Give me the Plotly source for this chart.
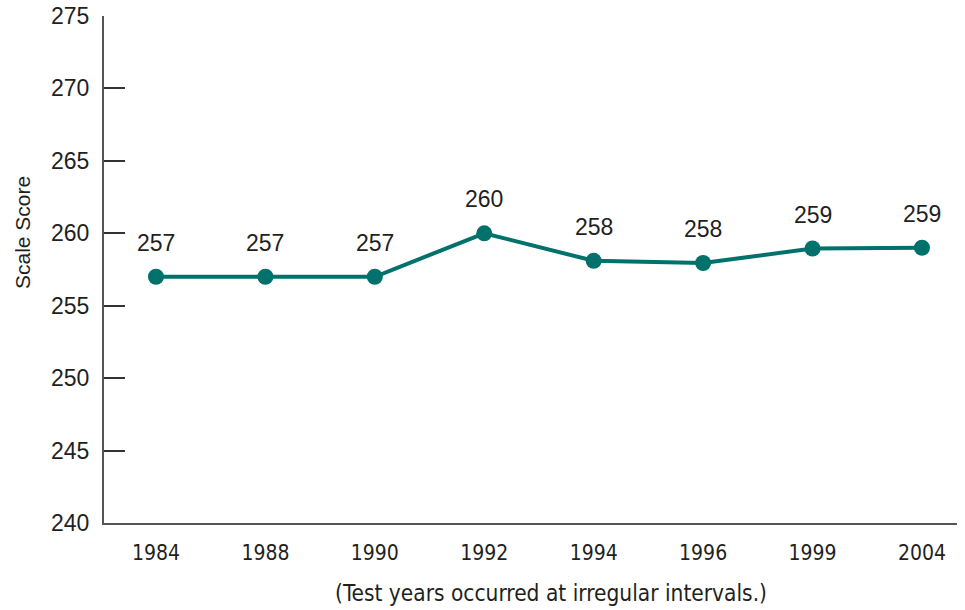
import plotly.graph_objects as go

years = ["1984", "1988", "1990", "1992", "1994", "1996", "1999", "2004"]
scores = [257.0, 257.0, 257.0, 260.0, 258.1, 257.95, 258.95, 259.0]
labels = ["257", "257", "257", "260", "258", "258", "259", "259"]
y_ticks = [240, 245, 250, 255, 260, 265, 270, 275]

TEAL = "#00716B"
TXT = "#231F20"
AX = "#555555"
SANS = "Liberation Sans, Arial, sans-serif"
NARROW = "Liberation Sans Narrow, DejaVu Sans Condensed, Roboto, sans-serif"

fig = go.Figure()
fig.add_trace(go.Scatter(
    x=years, y=scores, mode="lines+markers",
    line=dict(color=TEAL, width=4),
    marker=dict(color=TEAL, size=16),
    hoverinfo="skip", showlegend=False,
))

for i, (y, t) in enumerate(zip(scores, labels)):
    fig.add_annotation(x=i, y=y, text=t, showarrow=False, yanchor="bottom",
                       yshift=19, font=dict(family=SANS, size=23, color=TXT))

fig.add_annotation(xref="paper", yref="paper", x=(551 - 104) / 853, y=-(593 - 523) / 507,
                   text="(Test years occurred at irregular intervals.)",
                   showarrow=False, xanchor="center", yanchor="middle",
                   font=dict(family=NARROW, size=22.5, color=TXT))
fig.add_annotation(xref="paper", yref="paper", x=-(104 - 23) / 853, y=(523 - 233) / 507,
                   text="Scale Score", textangle=-90, showarrow=False,
                   xanchor="center", yanchor="middle",
                   font=dict(family=SANS, size=21, color=TXT))

fig.update_layout(
    width=965, height=610,
    margin=dict(l=104, r=8, t=16, b=87),
    paper_bgcolor="white", plot_bgcolor="white",
    xaxis=dict(
        type="category", range=[-0.475, 7.32], automargin=False,
        showline=True, linecolor=AX, linewidth=2,
        showgrid=False, zeroline=False, ticks="",
        ticklabelstandoff=10,
        tickfont=dict(family=NARROW, size=21, color=TXT),
    ),
    yaxis=dict(
        range=[240, 275], tickvals=y_ticks, automargin=False,
        showline=True, linecolor=AX, linewidth=2,
        showgrid=False, zeroline=False,
        ticks="inside", ticklen=21, tickwidth=1.5, tickcolor="#333333",
        ticklabelstandoff=8,
        tickfont=dict(family=SANS, size=23, color=TXT),
    ),
)

fig.write_html("out.html", config={"displayModeBar": False},
               post_script="document.body.style.margin='0';document.body.style.overflow='hidden';")
